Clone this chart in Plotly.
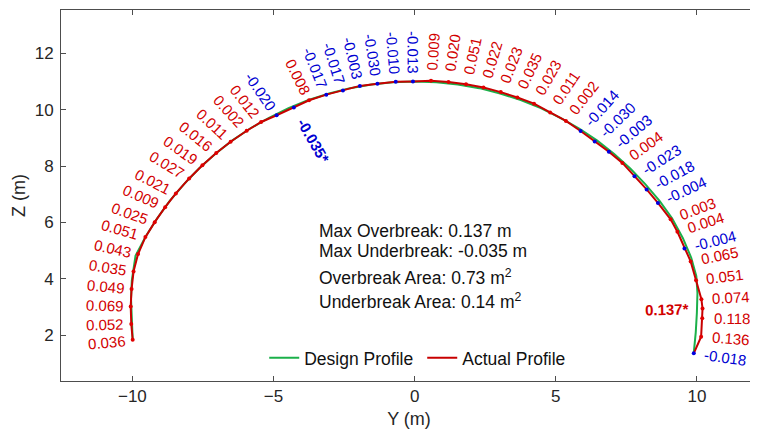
import math
import plotly.graph_objects as go

# ---------------- data ----------------
design_y = [-9.99, -10.03, -10.05, -10.02, -9.96, -9.89, -9.53, -9.12, -8.67, -8.17, -7.64, -7.07,
            -6.47, -5.83, -5.16, -4.47, -3.76, -3.03, -2.29, -1.53, -0.77, 0.0, 0.77, 1.53, 2.29,
            3.03, 3.76, 4.47, 5.16, 5.83, 6.47, 7.07, 7.64, 8.17, 8.67, 9.12, 9.50, 9.80, 9.98,
            10.02, 10.0, 9.96, 9.89]
design_z = [1.84, 2.60, 3.30, 3.95, 4.40, 4.82, 5.50, 6.15, 6.77, 7.36, 7.91, 8.43, 8.90, 9.33,
            9.71, 10.05, 10.34, 10.57, 10.76, 10.89, 10.97, 11.0, 10.97, 10.89, 10.76, 10.57,
            10.34, 10.05, 9.71, 9.33, 8.90, 8.43, 7.91, 7.36, 6.77, 6.15, 5.45, 4.75, 4.10,
            3.50, 2.80, 2.10, 1.38]

actual_y = [-9.99, -10.04, -10.06, -10.03, -9.96, -9.80, -9.54, -9.21, -8.84, -8.46, -7.99, -7.52,
            -7.03, -6.52, -5.95, -5.44, -4.89, -4.28, -3.74, -3.13, -2.54, -1.94, -1.32, -0.67,
            -0.06, 0.58, 1.20, 1.82, 2.44, 3.05, 3.64, 4.23, 4.80, 5.36, 5.88, 6.38, 6.88, 7.36,
            7.79, 8.22, 8.62, 9.07, 9.31, 9.56, 9.78, 9.97, 10.16, 10.20, 10.19, 10.15, 9.89]
actual_z = [1.84, 2.40, 3.02, 3.64, 4.26, 4.88, 5.48, 6.01, 6.54, 7.03, 7.56, 8.03, 8.46, 8.86,
            9.25, 9.56, 9.80, 10.07, 10.33, 10.53, 10.68, 10.84, 10.92, 10.99, 11.0, 11.02, 10.98,
            10.90, 10.78, 10.62, 10.43, 10.21, 9.90, 9.60, 9.24, 8.87, 8.51, 8.11, 7.64, 7.17,
            6.69, 6.11, 5.67, 5.08, 4.62, 3.95, 3.28, 2.95, 2.60, 1.95, 1.36]
deviation = [0.036, 0.052, 0.069, 0.049, 0.035, 0.043, 0.051, 0.025, 0.009, 0.021, 0.027, 0.019,
             0.016, 0.011, 0.002, 0.012, -0.020, -0.035, 0.008, -0.017, -0.017, -0.003, -0.030,
             -0.010, -0.013, 0.009, 0.020, 0.051, 0.022, 0.023, 0.035, 0.023, 0.011, 0.002,
             -0.014, -0.030, -0.003, 0.004, -0.023, -0.018, -0.004, 0.003, 0.004, -0.004, 0.065,
             0.051, 0.074, 0.137, 0.118, 0.136, -0.018]

stats_labels = ["Max Overbreak: 0.137 m", "Max Underbreak: -0.035 m",
                "Overbreak Area: 0.73 m<sup>2</sup>", "Underbreak Area: 0.14 m<sup>2</sup>"]
x_ticks = [-10, -5, 0, 5, 10]
y_ticks = [2, 4, 6, 8, 10, 12]

# ---------------- layout / style ----------------
# the page body has an 8px default margin, so the figure is 8px smaller than the window
W, H = 750, 424
ML, MR, MT, MB = 53, 1, 2, 51
x_range = [-12.53, 12.13]
y_range = [0.38, 13.53]
pxu = (W - ML - MR) / (x_range[1] - x_range[0])  # pixels per metre

FONT = "Arial, 'Liberation Sans', sans-serif"
RED_T = "#D20000"
BLUE_T = "#0000D2"
RED_L = "#C80000"
GREEN_L = "#1BB04A"
AX = "#262626"

CW = {".": 0.278, "-": 0.333, "*": 0.389}


def text_w(s, size):
    return sum(CW.get(c, 0.556) for c in s) * size


LABEL_SIZE = 15
ZC = 2.7        # centre height used for label directions
GAP_R = 0.38    # metres between point and outer label (right half)
GAP_L = 0.26    # metres between point and outer label (left half)
GAP_IN = 0.5    # metres between point and inner (max) label

imax = max(range(len(deviation)), key=lambda i: deviation[i])
imin = min(range(len(deviation)), key=lambda i: deviation[i])

annotations = []
for i, (y, z, d) in enumerate(zip(actual_y, actual_z, deviation)):
    phi = math.atan2(z - ZC, y)
    ux, uz = math.cos(phi), math.sin(phi)
    deg = math.degrees(phi)
    tang = -deg if ux >= 0 else 180 - deg
    if tang > 180:
        tang -= 360
    col = RED_T if d > 0 else BLUE_T
    if i in (imax, imin):
        s = f"{d:.3f}*"
        w = text_w(s, LABEL_SIZE) / pxu
        off = -(GAP_IN + w / 2)
        txt = f"<b>{s}</b>"
    else:
        s = f"{d:.3f}"
        w = text_w(s, LABEL_SIZE) / pxu
        off = (GAP_R if ux >= 0 else GAP_L) + w / 2
        txt = s
    annotations.append(dict(
        x=y + off * ux, y=z + off * uz, xref="x", yref="y", text=txt, showarrow=False,
        textangle=tang, xanchor="center", yanchor="middle",
        font=dict(family=FONT, size=LABEL_SIZE, color=col)))

stats_x = -3.47
stats_z = [5.70, 5.00, 4.08, 3.22]
for s, zz in zip(stats_labels, stats_z):
    annotations.append(dict(x=stats_x, y=zz, xref="x", yref="y", text=s, showarrow=False,
                            xanchor="left", yanchor="middle",
                            font=dict(family=FONT, size=17.5, color="#111111")))

fig = go.Figure()
fig.add_trace(go.Scatter(x=design_y, y=design_z, mode="lines", name="Design Profile",
                         line=dict(color=GREEN_L, width=2)))
fig.add_trace(go.Scatter(x=actual_y, y=actual_z, mode="lines", name="Actual Profile",
                         line=dict(color=RED_L, width=2)))
fig.add_trace(go.Scatter(x=actual_y, y=actual_z, mode="markers", showlegend=False,
                         marker=dict(size=4, color=["#E00000" if d > 0 else "#0000E0" for d in deviation])))

fig.update_layout(
    width=W, height=H,
    margin=dict(l=ML, r=MR, t=MT, b=MB, autoexpand=False),
    paper_bgcolor="white", plot_bgcolor="white",
    font=dict(family=FONT, color=AX),
    showlegend=True,
    legend=dict(orientation="h", x=0.519, y=0.062, xanchor="center", yanchor="middle",
                font=dict(family=FONT, size=17.5, color="#111111"), bgcolor="rgba(0,0,0,0)",
                entrywidth=113, itemwidth=30),
    annotations=annotations,
    xaxis=dict(range=x_range, tickvals=x_ticks, ticks="inside", ticklen=5, tickcolor="#4d4d4d",
               showline=True, linecolor="#4d4d4d", linewidth=1, mirror="ticks",
               showgrid=False, zeroline=False, tickfont=dict(size=17, color=AX),
               ticklabelstandoff=0, automargin=False,
               title=dict(text="Y (m)", font=dict(size=18, color=AX), standoff=6)),
    yaxis=dict(range=y_range, tickvals=y_ticks, ticks="inside", ticklen=5, tickcolor="#4d4d4d",
               showline=True, linecolor="#4d4d4d", linewidth=1,
               showgrid=False, zeroline=False, tickfont=dict(size=17, color=AX),
               ticklabelstandoff=3, automargin=False,
               title=dict(text="Z (m)", font=dict(size=18, color=AX), standoff=4)),
)

fig.write_html("out.html")
